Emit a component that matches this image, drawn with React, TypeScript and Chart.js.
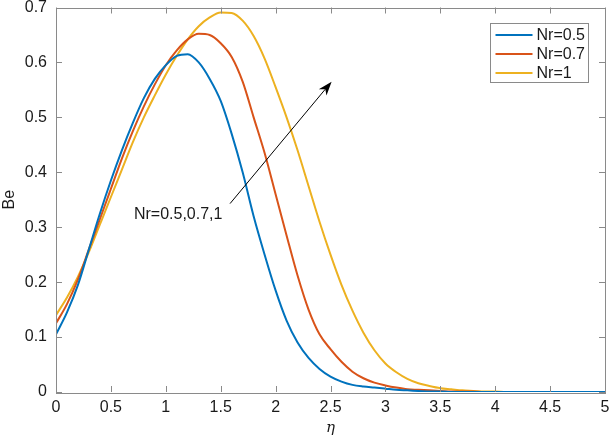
import { useEffect, useRef } from "react";
import Chart from "chart.js/auto";

// eta grid and Be values
const eta = [
  0, 0.1, 0.2, 0.3, 0.4, 0.5, 0.6, 0.7, 0.8, 0.9, 1, 1.1, 1.2, 1.3, 1.4, 1.5, 1.6,
  1.7, 1.8, 1.9, 2, 2.1, 2.2, 2.3, 2.4, 2.5, 2.6, 2.7, 2.8, 2.9, 3, 3.1, 3.2, 3.3,
  3.4, 3.5, 3.6, 3.7, 3.8, 3.9, 4, 4.1, 4.2, 4.3, 4.4, 4.5, 4.6, 4.7, 4.8, 4.9, 5,
];

const beNr05 = [
  0.105, 0.145, 0.195, 0.26, 0.325, 0.385, 0.44, 0.49, 0.535, 0.57, 0.595, 0.612,
  0.615, 0.6, 0.57, 0.53, 0.47, 0.4, 0.32, 0.25, 0.185, 0.13, 0.09, 0.062, 0.042,
  0.028, 0.019, 0.013, 0.01, 0.008, 0.006, 0.004, 0.003, 0.002, 0.001, 0.001, 0, 0,
  0, 0, 0, 0, 0, 0, 0, 0, 0, 0, 0, 0, 0,
];

const beNr07 = [
  0.125, 0.16, 0.205, 0.26, 0.315, 0.37, 0.425, 0.475, 0.52, 0.56, 0.595, 0.622,
  0.642, 0.652, 0.65, 0.635, 0.61, 0.565, 0.5, 0.435, 0.36, 0.285, 0.212, 0.15,
  0.105, 0.078, 0.055, 0.037, 0.025, 0.017, 0.012, 0.008, 0.005, 0.004, 0.003, 0.002,
  0.001, 0.001, 0.001, 0, 0, 0, 0, 0, 0, 0, 0, 0, 0, 0, 0,
];

const beNr1 = [
  0.14, 0.172, 0.21, 0.255, 0.305, 0.355, 0.405, 0.455, 0.5, 0.54, 0.578, 0.612,
  0.642, 0.666, 0.682, 0.691, 0.69, 0.676, 0.648, 0.607, 0.555, 0.5, 0.44, 0.375,
  0.31, 0.25, 0.195, 0.148, 0.108, 0.076, 0.052, 0.036, 0.024, 0.016, 0.011, 0.007,
  0.005, 0.003, 0.002, 0.001, 0.001, 0, 0, 0, 0, 0, 0, 0, 0, 0, 0,
];

const seriesLabels = ["Nr=0.5", "Nr=0.7", "Nr=1"];
const seriesColors = ["#0072BD", "#D95319", "#EDB120"];

// annotation (in data units)
const noteText = "Nr=0.5,0.7,1";
const noteAt = { x: 0.71, y: 0.323 };
const arrowFrom = { x: 1.585, y: 0.343 };
const arrowTo = { x: 2.51, y: 0.565 };

const FONT = "'Liberation Sans', Arial, Helvetica, sans-serif";
const AXIS_GRAY = "#8a8a8a";

const boxPlugin = {
  id: "matlabBox",
  afterDatasetsDraw(chart: any) {
    const { ctx, chartArea: a, scales } = chart;
    const len = 6;
    ctx.save();
    ctx.strokeStyle = AXIS_GRAY;
    ctx.lineWidth = 1;
    ctx.beginPath();
    for (const t of scales.x.ticks) {
      const px = Math.round(scales.x.getPixelForValue(t.value)) + 0.5;
      ctx.moveTo(px, a.bottom);
      ctx.lineTo(px, a.bottom - len);
      ctx.moveTo(px, a.top);
      ctx.lineTo(px, a.top + len);
    }
    for (const t of scales.y.ticks) {
      const py = Math.round(scales.y.getPixelForValue(t.value)) + 0.5;
      ctx.moveTo(a.left, py);
      ctx.lineTo(a.left + len, py);
      ctx.moveTo(a.right, py);
      ctx.lineTo(a.right - len, py);
    }
    ctx.stroke();
    ctx.strokeRect(
      Math.round(a.left) + 0.5,
      Math.round(a.top) + 0.5,
      Math.round(a.right - a.left),
      Math.round(a.bottom - a.top)
    );
    ctx.restore();
  },
  afterDraw(chart: any) {
    const { ctx, chartArea: a, scales } = chart;
    ctx.save();

    // legend box
    const w = 98;
    const h = 59;
    const lx = Math.round(a.right - 17 - w) + 0.5;
    const ly = Math.round(a.top + 15) + 0.5;
    ctx.fillStyle = "#fff";
    ctx.fillRect(lx, ly, w, h);
    ctx.strokeStyle = AXIS_GRAY;
    ctx.lineWidth = 1;
    ctx.strokeRect(lx, ly, w, h);
    ctx.font = `16px ${FONT}`;
    ctx.textBaseline = "middle";
    ctx.textAlign = "left";
    chart.data.datasets.forEach((ds: any, i: number) => {
      const ry = ly + 11.5 + i * 19;
      ctx.strokeStyle = ds.borderColor;
      ctx.lineWidth = 2;
      ctx.beginPath();
      ctx.moveTo(lx + 5, ry);
      ctx.lineTo(lx + 42, ry);
      ctx.stroke();
      ctx.fillStyle = "#1a1a1a";
      ctx.fillText(ds.label, lx + 46, ry + 1);
    });

    // annotation text
    ctx.font = `16px ${FONT}`;
    ctx.fillStyle = "#1a1a1a";
    ctx.fillText(noteText, scales.x.getPixelForValue(noteAt.x), scales.y.getPixelForValue(noteAt.y));

    // arrow
    const x0 = scales.x.getPixelForValue(arrowFrom.x);
    const y0 = scales.y.getPixelForValue(arrowFrom.y);
    const x1 = scales.x.getPixelForValue(arrowTo.x);
    const y1 = scales.y.getPixelForValue(arrowTo.y);
    const ang = Math.atan2(y1 - y0, x1 - x0);
    const hl = 14;
    const hw = 5;
    const bx = x1 - hl * Math.cos(ang);
    const by = y1 - hl * Math.sin(ang);
    const nx = x1 - hl * 0.7 * Math.cos(ang);
    const ny = y1 - hl * 0.7 * Math.sin(ang);
    ctx.strokeStyle = "#000";
    ctx.lineWidth = 1;
    ctx.beginPath();
    ctx.moveTo(x0, y0);
    ctx.lineTo(nx, ny);
    ctx.stroke();
    ctx.fillStyle = "#000";
    ctx.beginPath();
    ctx.moveTo(x1, y1);
    ctx.lineTo(bx + hw * Math.sin(ang), by - hw * Math.cos(ang));
    ctx.lineTo(nx, ny);
    ctx.lineTo(bx - hw * Math.sin(ang), by + hw * Math.cos(ang));
    ctx.closePath();
    ctx.fill();

    ctx.restore();
  },
};

const App = () => {
  const chartRef = useRef<HTMLCanvasElement>(null);

  useEffect(() => {
    const ctx = chartRef.current?.getContext("2d");
    if (!ctx) return;

    const series = [beNr05, beNr07, beNr1];

    const chart = new Chart(ctx, {
      type: "line",
      data: {
        datasets: series.map((vals, i) => ({
          label: seriesLabels[i],
          data: eta.map((x, j) => ({ x, y: vals[j] })),
          borderColor: seriesColors[i],
          backgroundColor: seriesColors[i],
          borderWidth: 2,
          pointRadius: 0,
          cubicInterpolationMode: "monotone" as const,
          fill: false,
        })),
      },
      options: {
        animation: false,
        responsive: true,
        maintainAspectRatio: false,
        layout: { padding: 0 },
        plugins: {
          legend: { display: false },
          tooltip: { enabled: false },
        },
        scales: {
          x: {
            type: "linear",
            min: 0,
            max: 5,
            ticks: {
              stepSize: 0.5,
              padding: 8,
              color: "#1a1a1a",
              font: { family: FONT, size: 16, lineHeight: 1 },
              maxRotation: 0,
              callback: (v: any) => String(Math.round(Number(v) * 10) / 10),
            },
            grid: { display: false, drawTicks: false, tickLength: 0 },
            border: { display: false },
            title: {
              display: true,
              text: "η",
              color: "#1a1a1a",
              font: { family: "'DejaVu Serif', 'Liberation Serif', serif", size: 15, style: "italic" },
              padding: { top: 0, bottom: 4 },
            },
            afterFit: (s: any) => {
              s.height = 49;
              s.paddingLeft = 0;
              s.paddingRight = 4;
            },
          },
          y: {
            min: 0,
            max: 0.7,
            ticks: {
              stepSize: 0.1,
              padding: 9,
              color: "#1a1a1a",
              font: { family: FONT, size: 16, lineHeight: 1 },
              callback: (v: any) => String(Math.round(Number(v) * 10) / 10),
            },
            grid: { display: false, drawTicks: false, tickLength: 0 },
            border: { display: false },
            title: {
              display: true,
              text: "Be",
              color: "#1a1a1a",
              font: { family: FONT, size: 16 },
              padding: { top: 0, bottom: 0 },
            },
            afterFit: (s: any) => {
              s.width = 56;
              s.paddingTop = 7.5;
              s.paddingBottom = 0;
            },
          },
        },
      },
      plugins: [boxPlugin],
    });

    return () => {
      chart.destroy();
    };
  }, []);

  return (
    <div style={{ position: "fixed", left: 0, top: 0, width: 609, height: 441, background: "#fff" }}>
      <canvas ref={chartRef} />
    </div>
  );
};

export default App;
